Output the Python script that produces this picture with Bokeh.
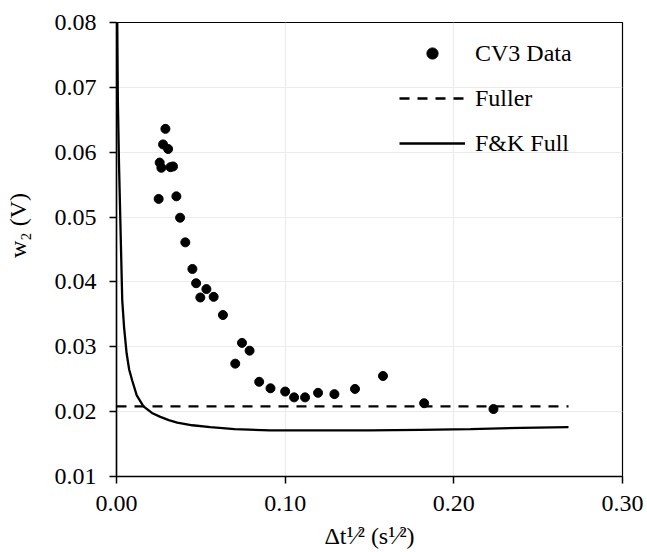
from bokeh.plotting import figure
from bokeh.models import (Range1d, FixedTicker, PrintfTickFormatter,
                          Legend, LegendItem)
from bokeh.embed import file_html
from bokeh.resources import INLINE

# ---------------- data ----------------
cv3_x = [0.0290, 0.0276, 0.0306, 0.0256, 0.0266, 0.0320, 0.0335, 0.0250,
         0.0355, 0.0377, 0.0408, 0.0450, 0.0472, 0.0533, 0.0497, 0.0576,
         0.0631, 0.0704, 0.0744, 0.0789, 0.0846, 0.0913, 0.1000, 0.1053,
         0.1118, 0.1195, 0.1292, 0.1414, 0.1580, 0.1824, 0.2235]
cv3_y = [0.0636, 0.0612, 0.0605, 0.0584, 0.0576, 0.0577, 0.0578, 0.0528,
         0.0532, 0.0499, 0.0461, 0.0420, 0.0398, 0.0389, 0.0376, 0.0377,
         0.0349, 0.0274, 0.0306, 0.0294, 0.0246, 0.0236, 0.0231, 0.0222,
         0.0222, 0.0229, 0.0227, 0.0235, 0.0255, 0.0213, 0.0204]

fuller_x = [0.0, 0.268]
fuller_y = [0.0208, 0.0208]

fk_x = [0.0003, 0.0008, 0.0015, 0.0025, 0.0034, 0.0045, 0.0060, 0.0075,
        0.0093, 0.0120, 0.0160, 0.0210, 0.0260, 0.0310, 0.0360, 0.0450,
        0.0556, 0.0700, 0.0910, 0.1200, 0.1500, 0.1800, 0.2100, 0.2400,
        0.2680]
fk_y = [0.0850, 0.0680, 0.0580, 0.0470, 0.0372, 0.0330, 0.0290, 0.0265,
        0.0248, 0.0225, 0.0208, 0.0198, 0.0192, 0.0187, 0.0183, 0.0179,
        0.0176, 0.0173, 0.0171, 0.0171, 0.0171, 0.0172, 0.0173, 0.0175,
        0.0176]

x_ticks = [0.0, 0.1, 0.2, 0.3]
y_ticks = [0.01, 0.02, 0.03, 0.04, 0.05, 0.06, 0.07, 0.08]

x_title = "Δt¹⁄² (s¹⁄²)"
y_title = "\u00a0" * 8 + "w₂ (V)"

# ---------------- layout ----------------
W, H = 647, 552
FX0, FW = 116, 506      # frame left / width (px)
FY0, FH = 22, 454       # frame top / height (px)
FONT = "Liberation Serif"

p = figure(width=W, height=H, output_backend="svg", toolbar_location=None,
           x_range=Range1d(0.0, 0.30), y_range=Range1d(0.01, 0.08),
           min_border_left=FX0, min_border_right=W - FX0 - FW,
           min_border_top=FY0, min_border_bottom=H - FY0 - FH)
p.background_fill_color = "white"
p.border_fill_color = "white"
p.outline_line_color = "black"
p.outline_line_width = 1.2

for ax in (p.xaxis[0], p.yaxis[0]):
    ax.axis_line_color = "black"
    ax.axis_line_width = 1.5
    ax.major_tick_line_color = "black"
    ax.major_tick_line_width = 1.5
    ax.major_tick_in = 0
    ax.major_tick_out = 7
    ax.minor_tick_line_color = None
    ax.major_label_text_font = FONT
    ax.major_label_text_font_size = "24px"
    ax.major_label_text_color = "black"
    ax.axis_label_text_font = FONT
    ax.axis_label_text_font_size = "24px"
    ax.axis_label_text_font_style = "normal"
    ax.axis_label_text_color = "black"
    ax.formatter = PrintfTickFormatter(format="%.2f")

p.xaxis[0].ticker = FixedTicker(ticks=x_ticks)
p.yaxis[0].ticker = FixedTicker(ticks=y_ticks)
p.xaxis[0].major_label_standoff = 12
p.yaxis[0].major_label_standoff = 13
p.xaxis[0].axis_label = x_title
p.yaxis[0].axis_label = y_title
p.xaxis[0].axis_label_standoff = 9
p.yaxis[0].axis_label_standoff = 21

p.xgrid[0].ticker = FixedTicker(ticks=x_ticks)
p.ygrid[0].ticker = FixedTicker(ticks=y_ticks)
p.xgrid.grid_line_color = "#ebebeb"
p.ygrid.grid_line_color = "#ebebeb"
p.xgrid.grid_line_width = 1.2
p.ygrid.grid_line_width = 1.2

r_fk = p.line(fk_x, fk_y, line_color="black", line_width=2.3)
r_fu = p.line(fuller_x, fuller_y, line_color="black", line_width=2.3,
              line_dash="10 8")
r_cv = p.scatter(cv3_x, cv3_y, size=9, fill_color="black", line_color="black")

legend = Legend(items=[LegendItem(label="CV3 Data", renderers=[r_cv]),
                       LegendItem(label="Fuller", renderers=[r_fu]),
                       LegendItem(label="F&K Full", renderers=[r_fk])],
                location=(283, 319), padding=0, margin=0,
                glyph_width=66, glyph_height=28, label_height=28,
                spacing=17, label_standoff=10,
                label_text_font=FONT, label_text_font_size="24px",
                label_text_color="black",
                background_fill_alpha=0, border_line_alpha=0)
p.add_layout(legend)

open("out.html", "w").write(file_html(p, INLINE))
